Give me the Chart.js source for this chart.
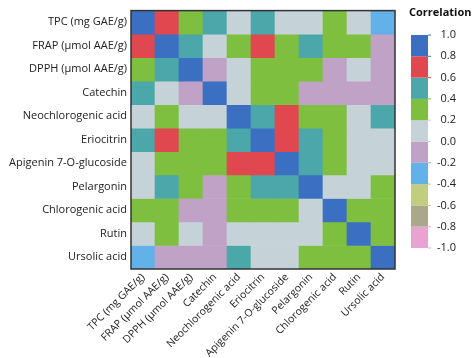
<!DOCTYPE html>
<html>
<head>
<meta charset="utf-8">
<script src="https://cdn.jsdelivr.net/npm/chart.js@4/dist/chart.umd.min.js"></script>
<style>
  html, body { margin: 0; padding: 0; background: #fff; }
  #wrap { width: 474px; height: 358px; }
</style>
</head>
<body>
<div id="wrap"><canvas id="heat"></canvas></div>
<script>
// Variables, same order on both axes (row 0 = top, column 0 = left)
const variables = [
  'TPC (mg GAE/g)',
  'FRAP (µmol AAE/g)',
  'DPPH (µmol AAE/g)',
  'Catechin',
  'Neochlorogenic acid',
  'Eriocitrin',
  'Apigenin 7-O-glucoside',
  'Pelargonin',
  'Chlorogenic acid',
  'Rutin',
  'Ursolic acid',
];

// Correlation values, one array per row (estimated from the colour bins)
const rowTPC     = [ 1.00,  0.72,  0.31,  0.47,  0.12,  0.52,  0.08,  0.15,  0.33,  0.10, -0.28];
const rowFRAP    = [ 0.72,  1.00,  0.55,  0.06,  0.29,  0.69,  0.34,  0.45,  0.27,  0.36, -0.12];
const rowDPPH    = [ 0.31,  0.55,  1.00, -0.08,  0.14,  0.25,  0.32,  0.28, -0.15,  0.09, -0.06];
const rowCat     = [ 0.47,  0.06, -0.08,  1.00,  0.18,  0.31,  0.22, -0.11, -0.04, -0.17, -0.13];
const rowNeo     = [ 0.12,  0.29,  0.14,  0.18,  1.00,  0.58,  0.74,  0.35,  0.26,  0.11,  0.43];
const rowErio    = [ 0.52,  0.69,  0.25,  0.31,  0.58,  1.00,  0.77,  0.48,  0.38,  0.05,  0.16];
const rowApig    = [ 0.08,  0.34,  0.32,  0.22,  0.74,  0.77,  1.00,  0.53,  0.24,  0.13,  0.07];
const rowPel     = [ 0.15,  0.45,  0.28, -0.11,  0.35,  0.48,  0.53,  1.00,  0.17,  0.04,  0.31];
const rowChlor   = [ 0.33,  0.27, -0.15, -0.04,  0.26,  0.38,  0.24,  0.17,  1.00,  0.39,  0.21];
const rowRutin   = [ 0.10,  0.36,  0.09, -0.17,  0.11,  0.05,  0.13,  0.04,  0.39,  1.00,  0.27];
const rowUrsolic = [-0.28, -0.12, -0.06, -0.13,  0.43,  0.16,  0.07,  0.31,  0.21,  0.27,  1.00];

const matrix = [rowTPC, rowFRAP, rowDPPH, rowCat, rowNeo, rowErio,
                rowApig, rowPel, rowChlor, rowRutin, rowUrsolic];

// Discrete colour scale, bins of 0.2 from -1.0 (first) to 1.0 (last)
const binColors = ['#e8a3d3', '#aaa88b', '#c1ce80', '#63b1e9', '#bfa2c6',
                   '#c5d2d8', '#7fbf3f', '#4ba7a9', '#e0474f', '#3b6fc1'];
const legendTicks = [1.0, 0.8, 0.6, 0.4, 0.2, 0.0, -0.2, -0.4, -0.6, -0.8, -1.0];

const FONT = "'Open Sans', 'Noto Sans', sans-serif";

function colorFor(v) {
  const i = Math.min(binColors.length - 1, Math.max(0, Math.floor((v + 1) / 0.2)));
  return binColors[i];
}

// one floating-bar dataset per row, spanning [row-0.5, row+0.5]
const datasets = matrix.map((row, r) => ({
  label: variables[r],
  data: row.map(() => [r - 0.5, r + 0.5]),
  backgroundColor: row.map(colorFor),
  borderWidth: 0,
  barPercentage: 1,
  categoryPercentage: 1,
  grouped: false,
}));

// frame round the plot + colour bar legend on the right
const extras = {
  id: 'extras',
  afterDraw(chart) {
    const { ctx, chartArea: a } = chart;
    ctx.save();
    ctx.strokeStyle = '#333';
    ctx.lineWidth = 1.5;
    ctx.strokeRect(a.left, a.top, a.right - a.left, a.bottom - a.top);

    // colour bar
    const x0 = 411, w = 17, top = 35, bottom = 248;
    const yFor = v => top + (1 - v) / 2 * (bottom - top);
    binColors.forEach((c, i) => {
      const lo = -1 + i * 0.2, hi = lo + 0.2;
      ctx.fillStyle = c;
      ctx.fillRect(x0, yFor(hi), w, yFor(lo) - yFor(hi));
    });
    ctx.font = '11px ' + FONT;
    ctx.fillStyle = '#222';
    ctx.textAlign = 'right';
    ctx.textBaseline = 'middle';
    legendTicks.forEach(t => {
      const y = yFor(t);
      ctx.strokeStyle = colorFor(Math.min(t, 0.99));
      ctx.lineWidth = 1;
      ctx.beginPath();
      ctx.moveTo(x0 + w, y);
      ctx.lineTo(x0 + w + 3, y);
      ctx.stroke();
      ctx.fillText(t.toFixed(1), 456, y);
    });
    ctx.font = 'bold 11px ' + FONT;
    ctx.textAlign = 'left';
    ctx.fillStyle = '#111';
    ctx.fillText('Correlation', 409, 13);
    ctx.restore();
  },
};

new Chart(document.getElementById('heat'), {
  type: 'bar',
  data: { labels: variables, datasets },
  options: {
    responsive: true,
    maintainAspectRatio: false,
    animation: false,
    layout: { padding: { top: 5, right: 79, left: 0, bottom: 0 } },
    plugins: { legend: { display: false }, tooltip: { enabled: false } },
    scales: {
      x: {
        grid: { display: false, drawTicks: false },
        border: { display: false },
        ticks: {
          autoSkip: false, minRotation: 45, maxRotation: 45, padding: 2,
          color: '#222', font: { family: FONT, size: 10.5 },
        },
        afterFit: s => { s.height = 89; },
      },
      y: {
        type: 'linear',
        min: -0.5,
        max: 10.5,
        reverse: true,
        grid: { display: false, drawTicks: false },
        border: { display: false },
        afterBuildTicks: s => { s.ticks = variables.map((_, i) => ({ value: i })); },
        ticks: {
          padding: 4, color: '#222', font: { family: FONT, size: 11 },
          callback: v => variables[v],
        },
        afterFit: s => { s.width = 131; },
      },
    },
  },
  plugins: [extras],
});
</script>
</body>
</html>
